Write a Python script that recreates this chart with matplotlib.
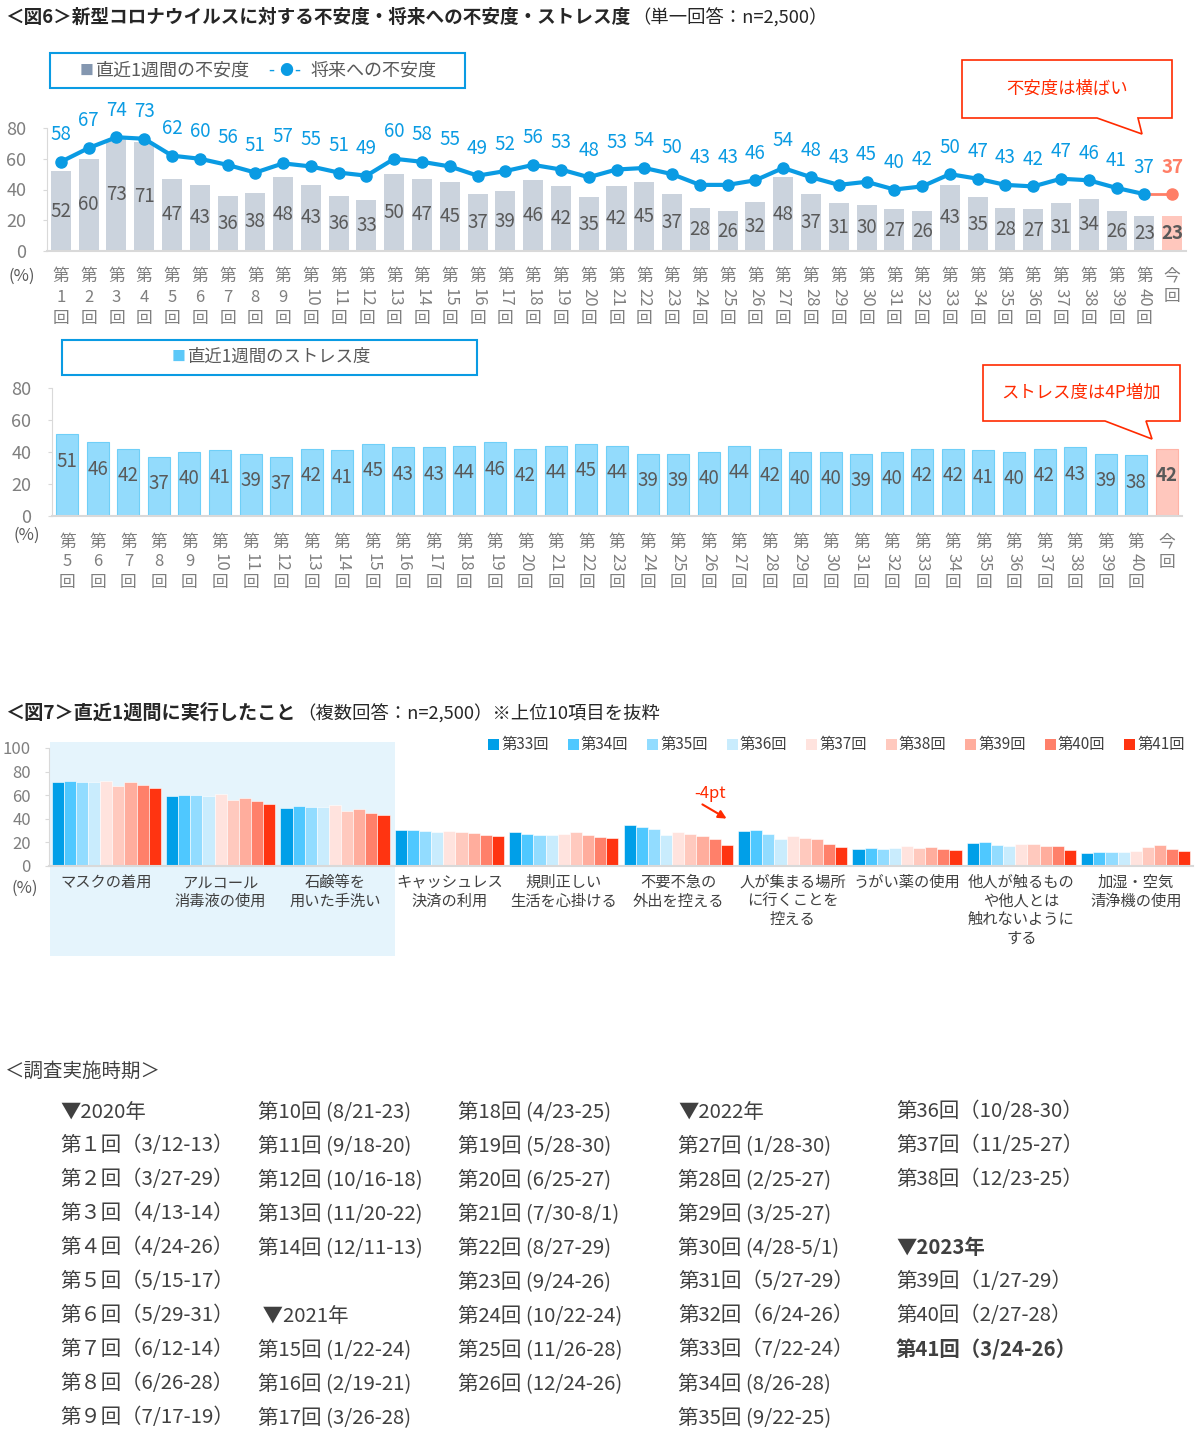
import numpy as np
import matplotlib
matplotlib.use('Agg')
import matplotlib.pyplot as plt
import matplotlib.transforms as mtransforms
from matplotlib.patches import Rectangle, Polygon

plt.rcParams['font.family'] = ['Noto Sans CJK JP', 'DejaVu Sans']

# ---- data: 図6 ----
rounds_a = [str(i) for i in range(1, 41)] + ['今回']
fuan_week = [52, 60, 73, 71, 47, 43, 36, 38, 48, 43, 36, 33, 50, 47, 45, 37, 39, 46, 42, 35,
             42, 45, 37, 28, 26, 32, 48, 37, 31, 30, 27, 26, 43, 35, 28, 27, 31, 34, 26, 23, 23]
fuan_future = [58, 67, 74, 73, 62, 60, 56, 51, 57, 55, 51, 49, 60, 58, 55, 49, 52, 56, 53, 48,
               53, 54, 50, 43, 43, 46, 54, 48, 43, 45, 40, 42, 50, 47, 43, 42, 47, 46, 41, 37, 37]
rounds_b = [str(i) for i in range(5, 41)] + ['今回']
stress = [51, 46, 42, 37, 40, 41, 39, 37, 42, 41, 45, 43, 43, 44, 46, 42, 44, 45,
          44, 39, 39, 40, 44, 42, 40, 40, 39, 40, 42, 42, 41, 40, 42, 43, 39, 38, 42]

# ---- data: 図7 ----
actions = ['マスクの着用', 'アルコール\n消毒液の使用', '石鹸等を\n用いた手洗い', 'キャッシュレス\n決済の利用',
           '規則正しい\n生活を心掛ける', '不要不急の\n外出を控える', '人が集まる場所\nに行くことを\n控える',
           'うがい薬の使用', '他人が触るもの\nや他人とは\n触れないように\nする', '加湿・空気\n清浄機の使用']
r33 = [70.8, 58.9, 49.0, 30.6, 28.9, 34.8, 29.7, 14.4, 19.8, 10.8]
r34 = [72.2, 60.1, 50.7, 30.6, 27.2, 33.1, 30.3, 15.3, 20.1, 11.9]
r35 = [71.4, 59.8, 50.1, 29.7, 26.6, 31.4, 27.2, 14.7, 18.1, 11.6]
r36 = [71.4, 59.5, 49.6, 28.6, 26.6, 26.6, 23.2, 15.6, 17.3, 11.9]
r37 = [72.2, 60.6, 51.8, 30.0, 27.5, 28.6, 25.5, 17.0, 19.0, 13.0]
r38 = [68.0, 56.1, 46.7, 28.6, 28.6, 27.2, 24.1, 15.6, 18.7, 15.9]
r39 = [71.1, 57.5, 48.2, 27.8, 26.5, 25.8, 22.9, 15.9, 16.7, 17.6]
r40 = [68.3, 55.2, 45.0, 26.1, 24.9, 22.9, 19.0, 14.7, 16.7, 14.2]
r41 = [66.0, 52.4, 43.6, 25.2, 23.5, 17.6, 15.9, 13.6, 13.6, 12.5]
series_names = ['第33回', '第34回', '第35回', '第36回', '第37回', '第38回', '第39回', '第40回', '第41回']
series_vals = [r33, r34, r35, r36, r37, r38, r39, r40, r41]
series_cols = ['#009fe8', '#4fc8ff', '#92dcff', '#c9ecfd', '#ffe3de', '#ffc9be', '#ffad9d', '#ff806a', '#ff3411']

# ---- 調査実施時期 ----
col1 = ['▼2020年', '第１回（3/12-13）', '第２回（3/27-29）', '第３回（4/13-14）', '第４回（4/24-26）',
        '第５回（5/15-17）', '第６回（5/29-31）', '第７回（6/12-14）', '第８回（6/26-28）', '第９回（7/17-19）']
col2 = ['第10回 (8/21-23)', '第11回 (9/18-20)', '第12回 (10/16-18)', '第13回 (11/20-22)', '第14回 (12/11-13)',
        '', ' ▼2021年', '第15回 (1/22-24)', '第16回 (2/19-21)', '第17回 (3/26-28)']
col3 = ['第18回 (4/23-25)', '第19回 (5/28-30)', '第20回 (6/25-27)', '第21回 (7/30-8/1)', '第22回 (8/27-29)',
        '第23回 (9/24-26)', '第24回 (10/22-24)', '第25回 (11/26-28)', '第26回 (12/24-26)', '']
col4 = ['▼2022年', '第27回 (1/28-30)', '第28回 (2/25-27)', '第29回 (3/25-27)', '第30回 (4/28-5/1)',
        '第31回（5/27-29）', '第32回（6/24-26）', '第33回（7/22-24）', '第34回 (8/26-28)', '第35回 (9/22-25)']
col5 = ['第36回（10/28-30）', '第37回（11/25-27）', '第38回（12/23-25）', '', '▼2023年',
        '第39回（1/27-29）', '第40回（2/27-28）', '第41回（3/24-26）', '', '']

W, H = 1200, 1439
fig = plt.figure(figsize=(W / 100, H / 100), dpi=100)


def axpx(l, t, r, b):
    return fig.add_axes([l / W, 1 - b / H, (r - l) / W, (b - t) / H])


def fx(px):
    return px / W


def fy(py):
    return 1 - py / H


GRAY = '#7f7f7f'
DARK = '#595959'
BLUE = '#0a9be3'
SALMON = '#ff7e66'


def style_axis(ax, ymax, step):
    for s in ['top', 'right']:
        ax.spines[s].set_visible(False)
    ax.spines['left'].set_color('#d9d9d9')
    ax.spines['bottom'].set_color('#d9d9d9')
    ax.spines['bottom'].set_linewidth(1.5)
    ax.set_ylim(0, ymax)
    ax.set_yticks(np.arange(0, ymax + 1, step))
    ax.tick_params(axis='y', colors='#d9d9d9', labelcolor=GRAY, labelsize=13, length=3, pad=12)
    ax.set_xticks([])
    ax.patch.set_alpha(0)


def vertical_ticks(ax, labels, y_top, gap):
    tr = mtransforms.blended_transform_factory(ax.transData, fig.transFigure)
    for i, lab in enumerate(labels):
        if lab == '今回':
            fig.text(i, fy(y_top), '今', transform=tr, ha='center', va='center', fontsize=12, color=GRAY)
            fig.text(i, fy(y_top + gap), '回', transform=tr, ha='center', va='center', fontsize=12, color=GRAY)
            continue
        fig.text(i, fy(y_top), '第', transform=tr, ha='center', va='center', fontsize=12, color=GRAY)
        rot = -90 if len(lab) > 1 else 0
        fig.text(i, fy(y_top + gap), lab, transform=tr, ha='center', va='center', fontsize=12,
                 color=GRAY, rotation=rot)
        fig.text(i, fy(y_top + 2 * gap), '回', transform=tr, ha='center', va='center', fontsize=12, color=GRAY)


def title_pair(x, y, bold_txt, rest_txt, size, rest_size):
    t = fig.text(fx(x), fy(y), bold_txt, fontsize=size, fontweight='bold', color='#262626', va='center')
    fig.canvas.draw()
    bb = t.get_window_extent()
    fig.text(fx(bb.x1 + 2), fy(y + 1), rest_txt, fontsize=rest_size, color='#262626', va='center')


# ================= 図6 (上) =================
title_pair(5, 17, '＜図6＞新型コロナウイルスに対する不安度・将来への不安度・ストレス度',
           '（単一回答：n=2,500）', 13.4, 13.2)

fig.patches.append(Rectangle((fx(50), fy(88)), fx(415), 35 / H, transform=fig.transFigure,
                             fill=False, edgecolor=BLUE, lw=1.5))
fig.text(fx(80), fy(71), '■', fontsize=10, color='#8497b0', va='center')
fig.text(fx(96), fy(71), '直近1週間の不安度', fontsize=13, color=DARK, va='center')
fig.text(fx(268), fy(71), '-', fontsize=12.5, color=BLUE, va='center')
fig.text(fx(279), fy(71), '●', fontsize=10, color=BLUE, va='center')
fig.text(fx(294), fy(71), '-', fontsize=12.5, color=BLUE, va='center')
fig.text(fx(310), fy(71), '将来への不安度', fontsize=13, color=DARK, va='center')

ax1 = axpx(47, 128, 1186, 251)
x1 = np.arange(len(fuan_week))
bar_cols = ['#cbd3dd'] * (len(fuan_week) - 1) + ['#ffc7bd']
ax1.bar(x1, fuan_week, width=0.72, color=bar_cols, zorder=2)
ax1.plot(x1[:-1], fuan_future[:-1], color=BLUE, lw=3, marker='o', ms=8, zorder=3)
ax1.plot(x1[-2:], fuan_future[-2:], color=SALMON, lw=2, zorder=2.5)
ax1.plot(x1[-1:], fuan_future[-1:], 'o', color=SALMON, ms=8, zorder=3)
ax1.set_xlim(-0.5, len(x1) - 0.5)
style_axis(ax1, 80, 20)
for i, (b, f) in enumerate(zip(fuan_week, fuan_future)):
    last = i == len(x1) - 1
    ax1.text(i, b / 2, str(b), ha='center', va='center', fontsize=13.5,
             color=DARK, fontweight='bold' if last else 'normal', zorder=4)
    ax1.annotate(str(f), (i, f), xytext=(0, 27), textcoords='offset pixels', ha='center', va='center',
                 fontsize=13.5, color=SALMON if last else BLUE,
                 fontweight='bold' if last else 'normal', annotation_clip=False, zorder=4)
fig.text(fx(22), fy(276), '(%)', fontsize=12, color=DARK, ha='center', va='center')
vertical_ticks(ax1, rounds_a, 276, 21)

fig.patches.append(Polygon([(fx(962), fy(60)), (fx(1172), fy(60)), (fx(1172), fy(118)), (fx(1138), fy(118)),
                            (fx(1142), fy(134)), (fx(1097), fy(118)), (fx(962), fy(118))],
                           closed=True, transform=fig.transFigure, facecolor='white',
                           edgecolor='#ff2a00', lw=1.2))
fig.text(fx(1067), fy(89), '不安度は横ばい', fontsize=12.5, color='#ff2a00', ha='center', va='center')

# ================= 図6 (下) =================
fig.patches.append(Rectangle((fx(62), fy(375)), fx(415), 35 / H, transform=fig.transFigure,
                             fill=False, edgecolor=BLUE, lw=1.5))
fig.text(fx(172), fy(357), '■', fontsize=10, color='#5cc8f8', va='center')
fig.text(fx(188), fy(357), '直近1週間のストレス度', fontsize=12.5, color=DARK, va='center')

ax2 = axpx(52, 388, 1182, 516)
x2 = np.arange(len(stress))
s_cols = ['#93dbfc'] * (len(stress) - 1) + ['#ffc7bd']
s_edge = ['#6fcff8'] * (len(stress) - 1) + ['#ffb3a6']
ax2.bar(x2, stress, width=0.72, color=s_cols, edgecolor=s_edge, lw=0.8, zorder=2)
ax2.set_xlim(-0.5, len(x2) - 0.5)
style_axis(ax2, 80, 20)
for i, v in enumerate(stress):
    last = i == len(x2) - 1
    ax2.annotate(str(v), (i, v), xytext=(0, -27), textcoords='offset pixels', ha='center', va='center',
                 fontsize=13.5, color=DARK, fontweight='bold' if last else 'normal', zorder=4)
fig.text(fx(27), fy(535), '(%)', fontsize=12, color=DARK, ha='center', va='center')
vertical_ticks(ax2, rounds_b, 542, 20)

fig.patches.append(Polygon([(fx(983), fy(365)), (fx(1180), fy(365)), (fx(1180), fy(421)), (fx(1146), fy(421)),
                            (fx(1152), fy(439)), (fx(1105), fy(421)), (fx(983), fy(421))],
                           closed=True, transform=fig.transFigure, facecolor='white',
                           edgecolor='#ff2a00', lw=1.2))
fig.text(fx(1081), fy(393), 'ストレス度は4P増加', fontsize=12.5, color='#ff2a00', ha='center', va='center')

# ================= 図7 =================
title_pair(5, 713, '＜図7＞直近1週間に実行したこと', '（複数回答：n=2,500）※上位10項目を抜粋', 13.8, 13.2)

# highlight of the top three items (behind the axes)
fig.patches.append(Rectangle((fx(50), fy(956)), fx(345), 214 / H, transform=fig.transFigure,
                             facecolor='#e5f4fc', edgecolor='none', zorder=-1))

ax3 = axpx(49, 748, 1193, 866)
x3 = np.arange(len(actions))
bw = 0.106
for k, (name, vals, c) in enumerate(zip(series_names, series_vals, series_cols)):
    ax3.bar(x3 + (k - 4) * bw, vals, width=bw, color=c, edgecolor='white', lw=0.4, zorder=2)
ax3.set_xlim(-0.5, len(x3) - 0.5)
style_axis(ax3, 100, 20)
ax3.tick_params(axis='y', labelsize=12, pad=10)
tr3 = mtransforms.blended_transform_factory(ax3.transData, fig.transFigure)
for i, lab in enumerate(actions):
    fig.text(i, fy(874), lab, transform=tr3, ha='center', va='top', fontsize=11,
             color='#404040', linespacing=1.12)
fig.text(fx(25), fy(888), '(%)', fontsize=12, color=DARK, ha='center', va='center')

# legend row
for k, (name, c) in enumerate(zip(series_names, series_cols)):
    lx = 488 + k * 79.5
    fig.patches.append(Rectangle((fx(lx), fy(750)), fx(11), 11 / H, transform=fig.transFigure,
                                 facecolor=c, edgecolor='none'))
    fig.text(fx(lx + 13), fy(744), name, fontsize=11, color='#404040', va='center')

# -4pt annotation
fig.text(fx(710), fy(793), '-4pt', fontsize=12, color='#ff2a00', ha='center', va='center')
ax3.annotate('', xy=(fx(729), fy(820)), xycoords='figure fraction',
             xytext=(fx(700), fy(803)), textcoords='figure fraction',
             arrowprops=dict(arrowstyle='-|>', color='#ff2a00', lw=1.5, mutation_scale=12))

# ================= 調査実施時期 =================
fig.text(fx(5), fy(1071), '＜調査実施時期＞', fontsize=14, color='#404040', va='center')
col_x = [60, 258, 458, 678, 896]
for cx, col in zip(col_x, [col1, col2, col3, col4, col5]):
    for r, s in enumerate(col):
        if not s:
            continue
        bold = s in ('▼2023年', '第41回（3/24-26）')
        fig.text(fx(cx), fy(1112 + 34 * r), s, fontsize=14.7, color='#404040', va='center',
                 fontweight='bold' if bold else 'normal')

fig.savefig('out.png', dpi=100, facecolor='white')
